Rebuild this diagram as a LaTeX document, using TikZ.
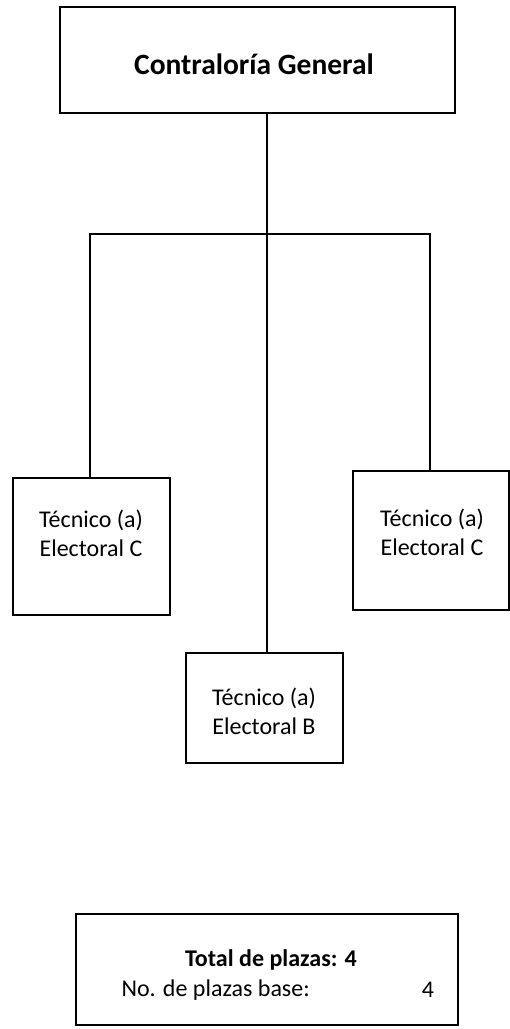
\documentclass[tikz,border=0pt]{standalone}
\usepackage{fontspec}
\setmainfont{Carlito}
\begin{document}
\begin{tikzpicture}[x=1pt,y=-1pt,
  box/.style={draw, line width=1.2pt, inner sep=0pt},
  conn/.style={line width=1.2pt},
  lbl/.style={align=center, font=\fontsize{24}{29}\selectfont},
  body/.style={font=\fontsize{24}{29}\selectfont}]
\useasboundingbox (0,0) rectangle (510,1029);
% boxes
\draw[box] (60,7) rectangle (455,113);
\node[font=\fontsize{29.5}{34}\selectfont\bfseries] (top) at (254,64) {Contraloría General};
\coordinate (topb) at (267,113);
\draw[box] (13,478) rectangle (170,615);
\node[lbl] (left) at (91,533) {Técnico (a)\\Electoral C};
\coordinate (leftt) at (90,478);
\draw[box] (353,471) rectangle (509,610);
\node[lbl] (right) at (432,532) {Técnico (a)\\Electoral C};
\coordinate (rightt) at (430,471);
\draw[box] (186,653) rectangle (343,763);
\node[lbl] (mid) at (264,711) {Técnico (a)\\Electoral B};
\coordinate (midt) at (267,653);
\draw[box] (76,914) rectangle (458,1025);
\node[body, font=\fontsize{24}{29}\selectfont\bfseries] (tot) at (271,960) {Total de plazas: 4};
\node[body, anchor=west] (base) at (118,990) {No. de plazas base:};
\node[body] (num) at (428,990) {4};
% connectors
\coordinate (hl) at (90,234);
\coordinate (hr) at (430,234);
\draw[conn] (topb) -- (midt);
\draw[conn] (leftt) -- (hl) -- (hr) -- (rightt);
\end{tikzpicture}
\end{document}
